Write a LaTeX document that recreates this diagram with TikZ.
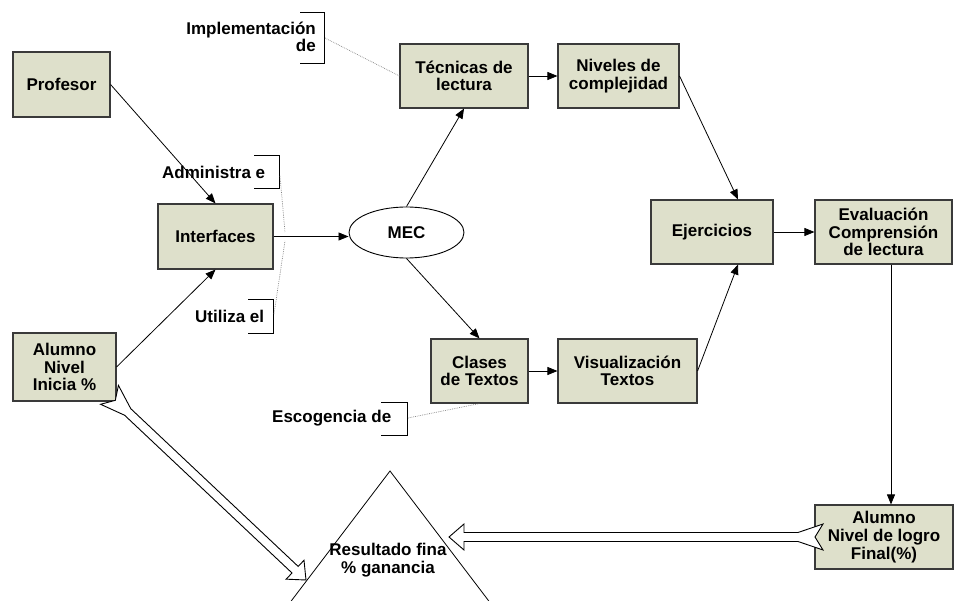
\documentclass[tikz,border=0pt]{standalone}
\usepackage{fontspec}
\setmainfont{Liberation Sans}
\usetikzlibrary{arrows.meta,shapes.geometric}
\definecolor{boxfill}{HTML}{DEE0CB}
\definecolor{boxline}{HTML}{3A3A3A}
\definecolor{dotgray}{HTML}{808080}
\newcommand\hollowarrow[3]{%
  \begin{scope}[shift={#1},rotate=#2]
    \draw[hollow] (0,0) -- (-15,13) -- (-15,4.5) -- ({-(#3)+17},4.5) -- ({-(#3)-8},13)
      -- ({-(#3)},0) -- ({-(#3)-8},-13) -- ({-(#3)+17},-4.5) -- (-15,-4.5) -- (-15,-13) -- cycle;
  \end{scope}}
\tikzset{
  lbl/.style={font=\bfseries\fontsize{17}{17.7}\selectfont, inner sep=0pt},
  box/.style={lbl, draw=boxline, line width=1.1pt, fill=boxfill, align=center},
  conn/.style={draw=black, line width=0.8pt, -{Triangle[length=10pt,width=8pt]}},
  dots/.style={draw=dotgray, line width=0.7pt, dash pattern=on 0.7pt off 1.1pt},
  bracket/.style={draw=black, line width=1pt},
  hollow/.style={draw=black, line width=0.9pt, fill=white, line join=miter},
  tri/.style={draw=black, line width=0.8pt}
}
\begin{document}
\begin{tikzpicture}[x=1pt,y=-1pt]
\useasboundingbox (0,0) rectangle (954,601);
\fill[white] (0,0) rectangle (954,601);

% boxes
\node[box, minimum width=97pt, minimum height=65pt] (prof) at (61.5,84.5) {Profesor};
\node[box, minimum width=115pt, minimum height=65pt] (inter) at (215.5,236.5) {Interfaces};
\node[lbl, draw=black, line width=0.9pt, ellipse, minimum width=115pt, minimum height=51pt] (mec) at (406.5,232.5) {MEC};
\node[box, minimum width=128pt, minimum height=64pt] (tec) at (464,76) {Técnicas de\\lectura};
\node[box, minimum width=121pt, minimum height=64pt] (niv) at (618.5,76) {Niveles de\\complejidad};
\node[box, minimum width=122pt, minimum height=64pt] (ejer) at (712,232) {Ejercicios};
\node[box, minimum width=137pt, minimum height=64pt] (eval) at (883.5,232) {Evaluación\\Comprensión\\de lectura};
\node[box, minimum width=103pt, minimum height=68pt] (alu1) at (64.5,367) {Alumno\\Nivel\\Inicia \%};
\node[box, minimum width=97pt, minimum height=64pt] (clases) at (479.5,371) {Clases\\de Textos};
\node[box, minimum width=139pt, minimum height=64pt] (vis) at (627.5,371) {Visualización\\Textos};
\node[box, minimum width=138pt, minimum height=64pt] (alu2) at (884,537) {Alumno\\Nivel de logro\\Final(\%)};

% connectors
\draw[conn] (prof.east) -- (inter.north);
\draw[conn] (alu1.east) -- (inter.south);
\draw[conn] (inter.east) -- (inter.east -| mec.west);
\draw[conn] (mec.north) -- (tec.south);
\draw[conn] (mec.south) -- (clases.north);
\draw[conn] (tec.east) -- (niv.west);
\draw[conn] (niv.east) -- (ejer.north -| 738,0);
\draw[conn] (vis.east) -- (ejer.south -| 738,0);
\draw[conn] (clases.east) -- (vis.west);
\draw[conn] (ejer.east) -- (eval.west);
\draw[conn] (eval.south -| 891,0) -- (alu2.north -| 891,0);

% annotation labels with brackets
\node[lbl, align=right, anchor=east] (impl) at (316,37) {Implementación\\de};
\draw[bracket] (300,13) -- (324,13) -- (324,64) -- (300,64);
\coordinate (implB) at (325,38);
\draw[dots] (implB) -- (tec.west);

\node[lbl, anchor=west] (adm) at (162,172) {Administra e};
\draw[bracket] (254,156) -- (279,156) -- (279,189) -- (254,189);
\coordinate (admB) at (280,176);
\coordinate (link1) at (285,232);
\draw[dots] (admB) -- (link1);

\node[lbl, anchor=west] (uti) at (195,316) {Utiliza el};
\draw[bracket] (248,300) -- (273,300) -- (273,334) -- (248,334);
\coordinate (utiB) at (274,314);
\coordinate (link2) at (285,241);
\draw[dots] (utiB) -- (link2);

\node[lbl, anchor=west] (esc) at (272,418) {Escogencia de};
\draw[bracket] (381,403) -- (407,403) -- (407,436) -- (381,436);
\coordinate (escB) at (408,418);
\draw[dots] (escB) -- (clases.south);

% result triangle
\coordinate (apex) at (390,471);
\draw[tri] (291.2,601) -- (apex) -- (488.8,601);
\node[lbl, align=center] (res) at (388,560) {Resultado fina\\\% ganancia};

% hollow arrows
\coordinate (tipA) at (306,580);
\coordinate (tipB) at (449,537);
\hollowarrow{(tipA)}{-43.3}{262}
\hollowarrow{(tipB)}{180}{366}
\end{tikzpicture}
\end{document}
